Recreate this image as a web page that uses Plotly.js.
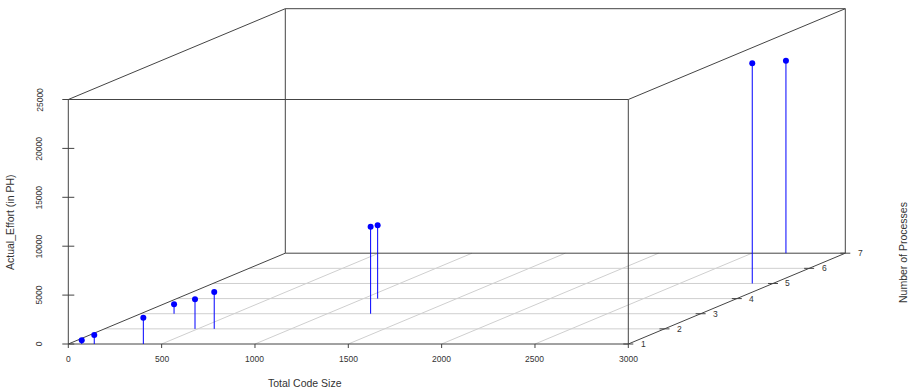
<!DOCTYPE html>
<html>
<head>
<meta charset="utf-8">
<script src="https://cdn.plot.ly/plotly-3.0.1.min.js"></script>
<style>
  html, body { margin: 0; padding: 0; background: #fff; }
  #chart { width: 908px; height: 392px; }
</style>
</head>
<body>
<div id="chart"></div>
<script>
// Projects: total code size, number of processes, actual effort (person-hours)
const codeSize  = [72, 139, 402, 179, 485, 588, 1232, 1076, 2889, 2682];
const processes = [1, 1, 1, 3, 2, 2, 3, 4, 5, 7];
const effort    = [380, 920, 2690, 961, 3027, 3773, 8896, 7495, 22515, 19683];

// Axis ticks
const xTicks = [0, 500, 1000, 1500, 2000, 2500, 3000];
const yTicks = [1, 2, 3, 4, 5, 6, 7];
const zTicks = [0, 5000, 10000, 15000, 20000, 25000];

const xTitle = "Total Code Size";
const yTitle = "Number of Processes";
const zTitle = "Actual_Effort (in PH)";

// ---- oblique projection of the 3-D box onto the flat x/z plane ----
const X0 = 0, X1 = 3000, Y0 = 1, Y1 = 7, Z0 = 0, Z1 = 25000;
const W = 908, H = 392;
const axLeftPx = 68.3, axRightPx = 628.3;   // front x-axis extent (px)
const axBasePx = 344, axTopPx = 99.5;       // front z-axis extent (px)
const pxPerX = (axRightPx - axLeftPx) / (X1 - X0);
const pxPerZ = (axBasePx - axTopPx) / (Z1 - Z0);
// one step in "processes" shifts the floor right and up
const depthX = (217 / (Y1 - Y0)) / pxPerX;
const depthZ = (90.8 / (Y1 - Y0)) / pxPerZ;

function proj(x, y, z) {
  return [x + (y - Y0) * depthX, z + (y - Y0) * depthZ];
}

// Collects 3-D segments into one line trace (null-separated)
function segTrace(segs, color, width) {
  const xs = [], ys = [];
  segs.forEach(([a, b]) => {
    const p = proj(...a), q = proj(...b);
    xs.push(p[0], q[0], null);
    ys.push(p[1], q[1], null);
  });
  return { type: "scatter", mode: "lines", x: xs, y: ys, hoverinfo: "skip",
           line: { color: color, width: width }, showlegend: false };
}

// Floor grid
const grid = [];
yTicks.slice(1, -1).forEach(y => grid.push([[X0, y, Z0], [X1, y, Z0]]));
xTicks.slice(1, -1).forEach(x => grid.push([[x, Y0, Z0], [x, Y1, Z0]]));

// Box edges
const box = [
  [[X0, Y0, Z0], [X1, Y0, Z0]], [[X0, Y0, Z0], [X0, Y0, Z1]],
  [[X0, Y0, Z1], [X1, Y0, Z1]], [[X1, Y0, Z0], [X1, Y0, Z1]],
  [[X0, Y1, Z0], [X1, Y1, Z0]], [[X0, Y1, Z0], [X0, Y1, Z1]],
  [[X0, Y1, Z1], [X1, Y1, Z1]], [[X1, Y1, Z0], [X1, Y1, Z1]],
  [[X0, Y0, Z0], [X0, Y1, Z0]], [[X1, Y0, Z0], [X1, Y1, Z0]],
  [[X0, Y0, Z1], [X0, Y1, Z1]], [[X1, Y0, Z1], [X1, Y1, Z1]]
];

// Tick marks (lengths in px converted to axis units)
const ticks = [];
const xTickLen = 4 / pxPerZ;
xTicks.forEach(x => ticks.push([[x, Y0, Z0], [x, Y0, Z0 - xTickLen]]));
const zTickLen = 6 / pxPerX;
zTicks.forEach(z => ticks.push([[X0 - zTickLen, Y0, z], [X0 + zTickLen, Y0, z]]));
const yTickLen = 5 / pxPerX;
yTicks.forEach(y => ticks.push([[X1 - yTickLen, y, Z0], [X1 + yTickLen, y, Z0]]));

// Vertical drop lines from each point to the floor
const drops = codeSize.map((x, i) => [[x, processes[i], Z0], [x, processes[i], effort[i]]]);

const pts = codeSize.map((x, i) => proj(x, processes[i], effort[i]));

const traces = [
  segTrace(grid, "#cfcfcf", 1),
  segTrace(box, "#444444", 1),
  segTrace(ticks, "#444444", 1),
  segTrace(drops, "#0000ff", 1),
  { type: "scatter", mode: "markers", x: pts.map(p => p[0]), y: pts.map(p => p[1]),
    marker: { color: "#0000ff", size: 6 }, showlegend: false, hoverinfo: "skip" }
];

const tickFont = { family: "Liberation Sans, Arial, sans-serif", size: 8.5, color: "#333" };
const titleFont = { family: "Liberation Sans, Arial, sans-serif", size: 10.5, color: "#333" };

const annotations = [];
xTicks.forEach(x => {
  const p = proj(x, Y0, Z0 - 15 / pxPerZ);
  annotations.push({ x: p[0], y: p[1], xref: "x", yref: "y", text: String(x),
    showarrow: false, font: tickFont, xanchor: "center", yanchor: "middle" });
});
yTicks.forEach(y => {
  const p = proj(X1 + 15 / pxPerX, y, Z0);
  annotations.push({ x: p[0], y: p[1], xref: "x", yref: "y", text: String(y),
    showarrow: false, font: tickFont, xanchor: "center", yanchor: "middle" });
});
zTicks.forEach(z => {
  const p = proj(X0 - 29 / pxPerX, Y0, z);
  annotations.push({ x: p[0], y: p[1], xref: "x", yref: "y", text: String(z),
    showarrow: false, font: tickFont, textangle: -90, xanchor: "center", yanchor: "middle" });
});
annotations.push(
  { x: 305 / W, y: 1 - 383 / H, xref: "paper", yref: "paper", text: xTitle,
    showarrow: false, font: titleFont, xanchor: "center", yanchor: "middle" },
  { x: 10 / W, y: 1 - 222 / H, xref: "paper", yref: "paper", text: zTitle,
    showarrow: false, font: titleFont, textangle: -90, xanchor: "center", yanchor: "middle" },
  { x: 903 / W, y: 1 - 253 / H, xref: "paper", yref: "paper", text: yTitle,
    showarrow: false, font: titleFont, textangle: -90, xanchor: "center", yanchor: "middle" }
);

const layout = {
  width: W, height: H,
  margin: { l: 0, r: 0, t: 0, b: 0 },
  paper_bgcolor: "#fff", plot_bgcolor: "#fff",
  xaxis: { range: [X0 - axLeftPx / pxPerX, X0 + (W - axLeftPx) / pxPerX], visible: false, fixedrange: true },
  yaxis: { range: [Z0 - (H - axBasePx) / pxPerZ, Z0 + axBasePx / pxPerZ], visible: false, fixedrange: true },
  showlegend: false,
  annotations: annotations
};

Plotly.newPlot("chart", traces, layout, { displayModeBar: false, staticPlot: true });
</script>
</body>
</html>
